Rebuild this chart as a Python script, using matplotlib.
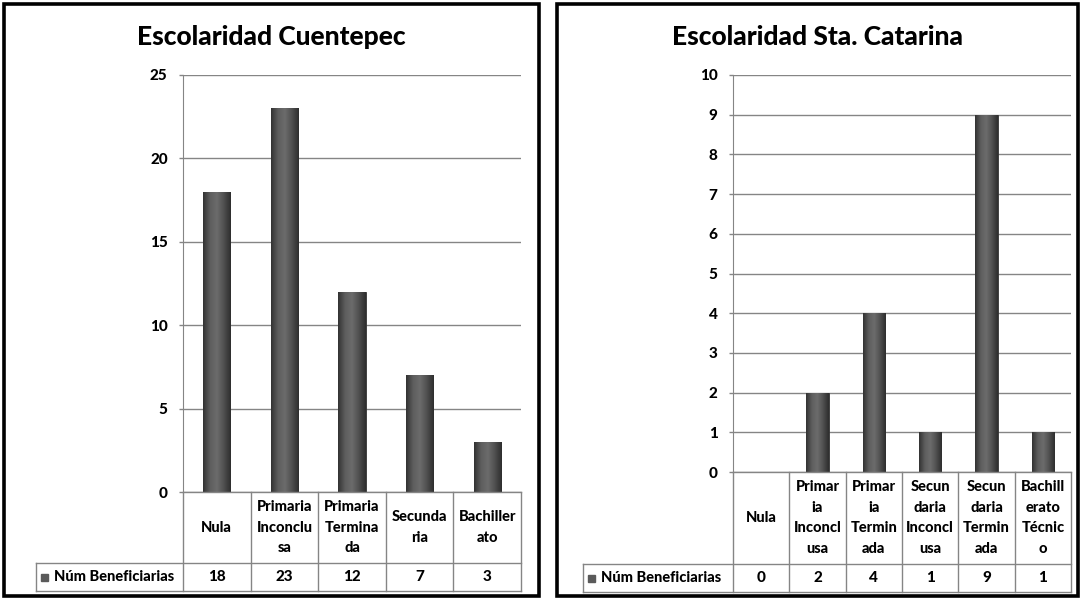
import numpy as np
import matplotlib
matplotlib.use("Agg")
import matplotlib.pyplot as plt
from matplotlib.patches import Rectangle
from matplotlib.colors import LinearSegmentedColormap

plt.rcParams['font.family'] = ['Lato', 'DejaVu Sans']

W, H = 1082, 599

# datos de escolaridad por localidad
cuentepec_cats = ["Nula", "Primaria\nInconclu\nsa", "Primaria\nTermina\nda",
                  "Secunda\nria", "Bachiller\nato"]
cuentepec_vals = [18, 23, 12, 7, 3]

catarina_cats = ["Nula", "Primar\nia\nInconcl\nusa", "Primar\nia\nTermin\nada",
                 "Secun\ndaria\nInconcl\nusa", "Secun\ndaria\nTermin\nada",
                 "Bachill\nerato\nTécnic\no"]
catarina_vals = [0, 2, 4, 1, 9, 1]

serie = "Núm Beneficiarias"

GRID = "#858585"
bar_cmap = LinearSegmentedColormap.from_list(
    "cil", ["#333333", "#5e5e5e", "#6c6c6c", "#505050", "#2e2e2e"])


def px_axes(fig, x0, y0, x1, y1):
    # caja en pixeles (origen arriba-izquierda) -> fraccion de figura
    return fig.add_axes([x0 / W, 1 - y1 / H, (x1 - x0) / W, (y1 - y0) / H])


def draw_panel(fig, frame, title, cats, vals, ymax, ystep, plot_box,
               row_split, table_bottom, legend_left):
    fx0, fy0, fx1, fy1 = frame
    fig.patches.append(Rectangle((fx0 / W, 1 - fy1 / H), (fx1 - fx0) / W,
                                 (fy1 - fy0) / H, transform=fig.transFigure,
                                 fill=False, ec="black", lw=2.6))
    fig.text((fx0 + fx1) / 2 / W, 1 - 37 / H, title, ha="center", va="center",
             fontsize=19, fontweight="black")

    n = len(cats)
    px0, py0, px1, py1 = plot_box
    ax = px_axes(fig, px0, py0, px1, py1)
    bars = ax.bar(np.arange(n), vals, width=0.4, color="#4e4e4e",
                  edgecolor="#333333", lw=0.6, zorder=3)
    # sombreado cilindrico de las barras
    grad = np.linspace(0, 1, 64).reshape(1, -1)
    for b in bars:
        if b.get_height() <= 0:
            continue
        im = ax.imshow(grad, cmap=bar_cmap, aspect="auto", zorder=3.5,
                       extent=(b.get_x(), b.get_x() + b.get_width(),
                               0, b.get_height()))
        im.set_clip_path(b)
    ax.set_xlim(-0.5, n - 0.5)
    ax.set_ylim(0, ymax)
    ax.set_yticks(np.arange(0, ymax + 0.1, ystep))
    ax.yaxis.grid(True, color=GRID, lw=1)
    ax.set_axisbelow(True)
    ax.set_xticks([])
    for s in ["top", "right", "bottom"]:
        ax.spines[s].set_visible(False)
    ax.spines["left"].set_color(GRID)
    ax.tick_params(axis="y", length=3, width=1, color=GRID, pad=8,
                   labelsize=11)
    for lab in ax.get_yticklabels():
        lab.set_fontweight("black")
    ax.patch.set_alpha(0)

    # tabla de datos bajo el grafico
    col_w = (px1 - px0) / n
    leg_units = (px0 - legend_left) / col_w
    tx = px_axes(fig, legend_left, py1, px1, table_bottom)
    th = table_bottom - py1
    split = row_split - py1
    tx.set_xlim(-0.5 - leg_units, n - 0.5)
    tx.set_ylim(th, 0)
    tx.axis("off")
    kw = dict(color=GRID, lw=1, clip_on=False)
    for i in range(n + 1):
        tx.plot([i - 0.5, i - 0.5], [0, th], **kw)
    tx.plot([-0.5, n - 0.5], [0, 0], **kw)
    tx.plot([-0.5 - leg_units, n - 0.5], [split, split], **kw)
    tx.plot([-0.5 - leg_units, n - 0.5], [th, th], **kw)
    tx.plot([-0.5 - leg_units] * 2, [split, th], **kw)
    for i, (c, v) in enumerate(zip(cats, vals)):
        tx.text(i, split / 2, c, ha="center", va="center", fontsize=10.5,
                fontweight="black", linespacing=1.6)
        tx.text(i, (split + th) / 2, str(v), ha="center", va="center",
                fontsize=11, fontweight="black")
    x_leg = -0.5 - leg_units + 5 / col_w
    tx.add_patch(Rectangle((x_leg, (split + th) / 2 - 3.5), 7 / col_w, 7,
                           color="#5a5a5a", clip_on=False))
    tx.text(x_leg + 13 / col_w, (split + th) / 2, serie, ha="left",
            va="center", fontsize=10.5, fontweight="black")


fig = plt.figure(figsize=(W / 100, H / 100), dpi=100)
fig.patch.set_facecolor("white")

draw_panel(fig, (4, 4, 539, 596), "Escolaridad Cuentepec",
           cuentepec_cats, cuentepec_vals, 25, 5,
           (183, 75, 521, 492), 563, 591, 36)
draw_panel(fig, (557, 4, 1078, 596), "Escolaridad Sta. Catarina",
           catarina_cats, catarina_vals, 10, 1,
           (733, 75, 1071, 472), 564, 592, 583)

fig.savefig("out.png", dpi=100)
